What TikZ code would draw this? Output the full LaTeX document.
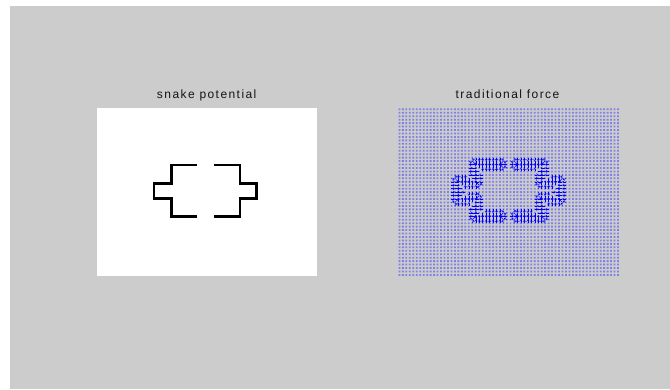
\documentclass[tikz,border=0pt]{standalone}
\usepackage{fontspec}
\newfontfamily\titlefont{Liberation Sans}[LetterSpace=12]
\usetikzlibrary{arrows.meta}
\definecolor{bggray}{RGB}{204,204,204}
\definecolor{dotblue}{RGB}{128,128,230}
\definecolor{qblue}{RGB}{0,0,255}
\tikzset{
  title/.style={font=\titlefont\fontsize{12}{14}\selectfont, text=black!92, anchor=base, inner sep=0pt},
  snakeline/.style={line width=2.9pt, line join=miter, black},
  qarrow/.style={qblue, line width=0.45pt, -{Straight Barb[length=1.4pt,width=2.4pt]}},
}
\def\segs{22/29/16/16,22/22/16/21,17/22/21/21,17/17/21/26,17/22/26/26,22/22/26/31,22/29/31/31,34/41/16/16,41/41/16/21,41/46/21/21,46/46/21/26,41/46/26/26,41/41/26/31,34/41/31/31}
\begin{document}
\begin{tikzpicture}[x=1pt,y=-1pt]
\useasboundingbox (0,0) rectangle (670,389);
\fill[white] (0,0) rectangle (670,389);
\fill[bggray] (10,6) rectangle (670,389);
% titles
\node[title] (t1) at (206.7,98.6) {snake potential};
\node[title] (t2) at (507.5,98.6) {traditional force};
% left panel
\fill[white] (97.3,108.3) rectangle (317.3,276);
\draw[snakeline] (196.7,165) -| (171.7,183.3) -| (154,198.3) -| (171.7,216.7) -- (196.7,216.7);
\draw[snakeline] (214,165) -| (240,183.3) -| (256.7,198.3) -| (240,216.7) -- (214,216.7);
% right panel: grid of zero-length quiver marks
\fill[dotblue] \foreach \i in {0,...,63}{\foreach \j in {0,...,48}{ ({398.5+3.47*\i},{108.4+3.45*\j}) rectangle ++(1.8,1.8) }};
% force arrows near the contour
\foreach \i in {14,...,49}{
  \foreach \j in {13,...,34}{
    \gdef\bd{100}\gdef\bx{0}\gdef\by{0}
    \foreach \a/\b/\c/\e in \segs{
      \pgfmathsetmacro\nx{max(\a,min(\b,\i))}
      \pgfmathsetmacro\ny{max(\c,min(\e,\j))}
      \pgfmathsetmacro\dd{(\nx-\i)^2+(\ny-\j)^2}
      \ifdim\dd pt<\bd pt \xdef\bd{\dd}\xdef\bx{\nx}\xdef\by{\ny}\fi
    }
    \ifdim\bd pt>0.1pt
      \ifdim\bd pt<5.5pt
        \pgfmathsetmacro\d{sqrt(\bd)}
        \pgfmathsetmacro\L{\d<1.6 ? 1.35 : 0.95}
        \pgfmathsetmacro\ux{(\bx-\i)/\d*\L*3.47}
        \pgfmathsetmacro\uy{(\by-\j)/\d*\L*3.45}
        \draw[qarrow] ({399.4+3.47*\i},{109.3+3.45*\j}) -- ++(\ux,\uy);
      \fi
    \fi
  }
}
\end{tikzpicture}
\end{document}
